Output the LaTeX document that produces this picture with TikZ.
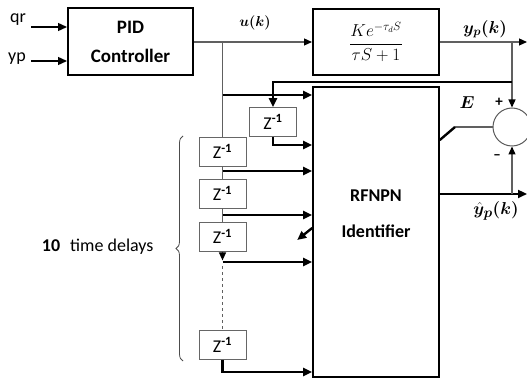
\documentclass[tikz,border=0pt]{standalone}
\usepackage{amsmath,bm}
\usepackage{fontspec}
\setmainfont{Carlito}
\usetikzlibrary{arrows.meta,decorations.pathreplacing}

\tikzset{
  blk/.style={draw, line width=2pt, minimum width=125pt, minimum height=67pt, inner sep=0pt},
  dly/.style={draw=gray!80!black, line width=0.8pt, minimum width=47pt, minimum height=29pt,
    inner sep=0pt, font=\fontsize{18}{20}\selectfont},
  wire/.style={gray!75!black, line width=1.2pt},
  bus/.style={black, line width=2.4pt},
  tip/.style={-{Triangle[length=9pt,width=8pt]}},
  gtip/.style={-{Triangle[length=8pt,width=7pt,color=black]}},
  txt/.style={font=\fontsize{18}{20}\selectfont},
  mth/.style={font=\fontsize{17}{20}\selectfont},
}
\newcommand{\zinv}{Z\textsuperscript{\textbf{-1}}}

\begin{document}
\begin{tikzpicture}[x=1pt, y=-1pt]
    \useasboundingbox (0,0) rectangle (527,379);

    % ===== blocks =====
    \node[blk, font=\fontsize{19}{29}\selectfont\bfseries, align=center] (pid) at (130.5,42) {PID\\Controller};
    \node[blk, minimum width=126pt, minimum height=66pt, font=\fontsize{17}{20}\selectfont] (plant) at (376,42)
        {$\displaystyle\frac{Ke^{-\tau_d S}}{\tau S+1}$};
    \node[draw, line width=1.6pt, minimum width=126pt, minimum height=290pt] (ident) at (376,232) {};
    \node[font=\fontsize{18}{36}\selectfont\bfseries, align=center] (idtxt) at (376,214) {RFNPN\\Identifier};
    \node[circle, draw=gray!70!black, line width=1pt, minimum size=38pt, inner sep=0pt] (sum) at (512,127) {};

    % delays
    \node[dly] (zf) at (273,122) {\zinv};
    \node[dly] (d1) at (222.5,151.5) {\zinv};
    \node[dly] (d2) at (222.5,193.5) {\zinv};
    \node[dly] (d3) at (222.5,236.5) {\zinv};
    \node[dly] (d4) at (222.5,345) {\zinv};

    % ===== inputs =====
    \node[txt] (qr) at (18,20) {qr};
    \node[txt] (yp) at (17,59) {yp};
    \coordinate (qin) at (31,27);
    \coordinate (yin) at (31,61);
    \draw[black, line width=1.4pt, tip] (qin) -- (qin -| pid.west);
    \draw[black, line width=1.4pt, tip] (yin) -- (yin -| pid.west);

    % control signal u(k)
    \coordinate (uk) at (d1.north |- pid.east);
    \draw[wire, gtip] (pid.east) -- (plant.west);
    \node[mth, font=\fontsize{14.4}{16}\selectfont] (ulab) at (255,23) {$\bm{u(k)}$};
    \draw[wire] (uk) -- (d1.north);
    \draw[bus, tip] (uk |- 0,95) -- (ident.west |- 0,95);

    % plant output y_p(k)
    \coordinate (yout) at (527,42);
    \coordinate (yk) at (sum.north |- plant.east);
    \draw[wire, gtip] (plant.east) -- (yout);
    \node[mth] (yplab) at (485,29) {$\bm{y_p(k)}$};
    \draw[wire, gtip] (yk) -- (sum.north);

    % feedback through delay
    \coordinate (fb) at (sum.north |- 0,82);
    \draw[bus, tip] (fb) -| (zf.north);
    \draw[bus, tip] (zf.south) |- (ident.west |- 0,145);

    % tapped delay line
    \draw[wire] (d1.south) -- (d2.north);
    \draw[wire] (d2.south) -- (d3.north);
    \draw[bus, tip] (d1.south |- 0,171) -- (ident.west |- 0,171);
    \draw[bus, tip] (d2.south |- 0,215) -- (ident.west |- 0,215);
    \draw[wire, gtip] (d3.south) -- ++(0,9);
    \draw[bus, tip] (d3.south |- 0,262) -- (ident.west |- 0,262);
    \draw[wire, dashed] (d3.south |- 0,266) -- (d4.north);
    \draw[bus, tip] (d4.south) |- (ident.west |- 0,372);
    \draw[bus, tip] (ident.west |- 0,228) -- ++(-15,12);

    % brace
    \draw[gray!60!black, line width=0.8pt, decorate, decoration={brace, amplitude=7pt}] (183,361) -- (183,136);
    \node[txt, anchor=east] (ndly) at (157,247) {\textbf{10}\hspace{10pt}time delays};

    % error and estimate
    \coordinate (ebend) at (455,127);
    \draw[wire] (sum.west) -- (ebend);
    \draw[bus] (ebend) -- (ident.east |- 0,140);
    \node[mth] (elab) at (467,103) {$\bm{E}$};
    \node[font=\fontsize{15}{16}\selectfont\bfseries] (plus) at (499,102) {+};
    \node[font=\fontsize{15}{16}\selectfont\bfseries] (minus) at (497,157) {–};
    \coordinate (yhout) at (527,194);
    \draw[bus, tip] (ident.east |- yhout) -- (yhout);
    \draw[wire, gtip] (sum.south |- yhout) -- (sum.south);
    \node[mth, font=\fontsize{19}{22}\selectfont] (yhlab) at (496,211) {$\bm{\hat{y}_p(k)}$};
\end{tikzpicture}
\end{document}
